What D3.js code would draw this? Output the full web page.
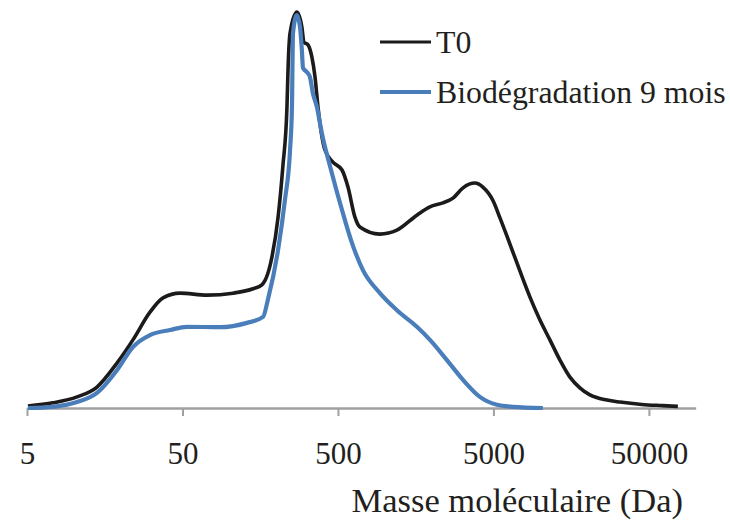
<!DOCTYPE html>
<html>
<head>
<meta charset="utf-8">
<script src="https://cdn.jsdelivr.net/npm/d3@7"></script>
<style>
  html, body { margin: 0; padding: 0; background: #fff; }
  svg { display: block; }
  text { font-family: "Liberation Serif", "DejaVu Serif", serif; fill: #231f20; }
</style>
</head>
<body>
<svg id="chart" width="730" height="523"></svg>
<script>
// Molecular mass (Da) and relative intensity for each series
const t0Mass = [5.07, 7.35, 10.5, 14.1, 19.0, 24.0, 30.9, 37.5, 48.2, 71.9, 105.7, 142, 162, 188, 206, 221, 235, 239, 246, 272, 293, 302, 321, 340, 356, 372, 412, 464, 531, 580, 643, 692, 931, 1197, 1610, 1953, 2368, 2748, 3187, 3802, 4276, 4966, 5508, 6385, 7400, 8590, 9960, 11540, 13390, 15520, 17990, 20880, 26880, 32570, 45000, 61500, 76800];
const t0Value = [0.5, 1.3, 2.8, 5.3, 11.4, 17.2, 24.2, 27.8, 29.0, 28.5, 29.0, 30.1, 31.1, 38.1, 48.2, 60.9, 76.0, 86.1, 94.7, 100, 96.2, 92.4, 91.7, 88.6, 83.6, 76.0, 65.2, 62.1, 60.1, 55.8, 48.2, 45.7, 43.9, 44.9, 48.7, 50.8, 51.8, 53.0, 55.6, 56.8, 55.8, 52.4, 48.0, 41.4, 34.6, 28.0, 22.2, 17.2, 12.1, 7.8, 5.1, 3.3, 2.0, 1.5, 0.9, 0.6, 0.4];

const bioMass = [5.07, 7.35, 10.5, 14.1, 19.0, 24.0, 30.9, 41.6, 53.4, 87.1, 130, 165, 177, 206, 228, 246, 253, 257, 272, 285, 293, 298, 316, 330, 345, 366, 394, 457, 531, 615, 724, 931, 1197, 1610, 1953, 2512, 3187, 4093, 5270, 6670, 10400];
const bioValue = [0, 0.3, 1.5, 3.8, 9.6, 15.4, 18.4, 19.7, 20.5, 20.4, 21.5, 23.0, 27.3, 39.9, 52.5, 65.2, 76.0, 94.7, 99.2, 96.2, 90.4, 85.9, 84.8, 83.6, 79.5, 76.0, 69.4, 59.3, 50.0, 41.7, 34.8, 29.0, 24.7, 20.5, 17.2, 12.1, 7.1, 2.8, 0.8, 0.3, 0];

const tickValues = [5, 50, 500, 5000, 50000];
const seriesNames = ["T0", "Biodégradation 9 mois"];
const xTitle = "Masse moléculaire (Da)";

const svg = d3.select("#chart");

const x = d3.scaleLog().domain([5, 100000]).range([27, 695.7]);
const y = d3.scaleLinear().domain([0, 100]).range([408, 12]);

// axis
const axis = d3.axisBottom(x)
  .tickValues(tickValues)
  .tickFormat(d3.format("d"))
  .tickSize(8)
  .tickSizeOuter(0);

const gx = svg.append("g").attr("transform", "translate(0,408)").call(axis);
gx.select(".domain").attr("stroke", "#a0a0a0").attr("stroke-width", 2.5);
gx.selectAll(".tick line").attr("stroke", "#a0a0a0").attr("stroke-width", 2);
gx.selectAll(".tick text")
  .attr("y", 56).attr("dy", 0)
  .attr("font-size", 31)
  .attr("font-family", "Liberation Serif, serif")
  .attr("fill", "#231f20");

svg.append("text")
  .attr("x", 683).attr("y", 512)
  .attr("text-anchor", "end")
  .attr("font-size", 34.5)
  .text(xTitle);

const line = d3.line()
  .x(d => x(d[0]))
  .y(d => y(d[1]))
  .curve(d3.curveMonotoneX);

const t0 = t0Mass.map((m, i) => [m, t0Value[i]]);
const bio = bioMass.map((m, i) => [m, bioValue[i]]);

svg.append("path").datum(t0)
  .attr("d", line)
  .attr("fill", "none")
  .attr("stroke", "#1c1a1b")
  .attr("stroke-width", 3.6)
  .attr("stroke-linejoin", "round");

svg.append("path").datum(bio)
  .attr("d", line)
  .attr("fill", "none")
  .attr("stroke", "#4a7ebb")
  .attr("stroke-width", 4.2)
  .attr("stroke-linejoin", "round");

// legend
const legend = [
  { name: seriesNames[0], color: "#1c1a1b", w: 3.2, y: 42 },
  { name: seriesNames[1], color: "#4a7ebb", w: 4.2, y: 92 }
];
const lg = svg.append("g");
legend.forEach(l => {
  lg.append("line")
    .attr("x1", 380).attr("x2", 431)
    .attr("y1", l.y).attr("y2", l.y)
    .attr("stroke", l.color).attr("stroke-width", l.w);
  lg.append("text")
    .attr("x", 436).attr("y", l.y + 11)
    .attr("font-size", 31.8)
    .text(l.name);
});
</script>
</body>
</html>
